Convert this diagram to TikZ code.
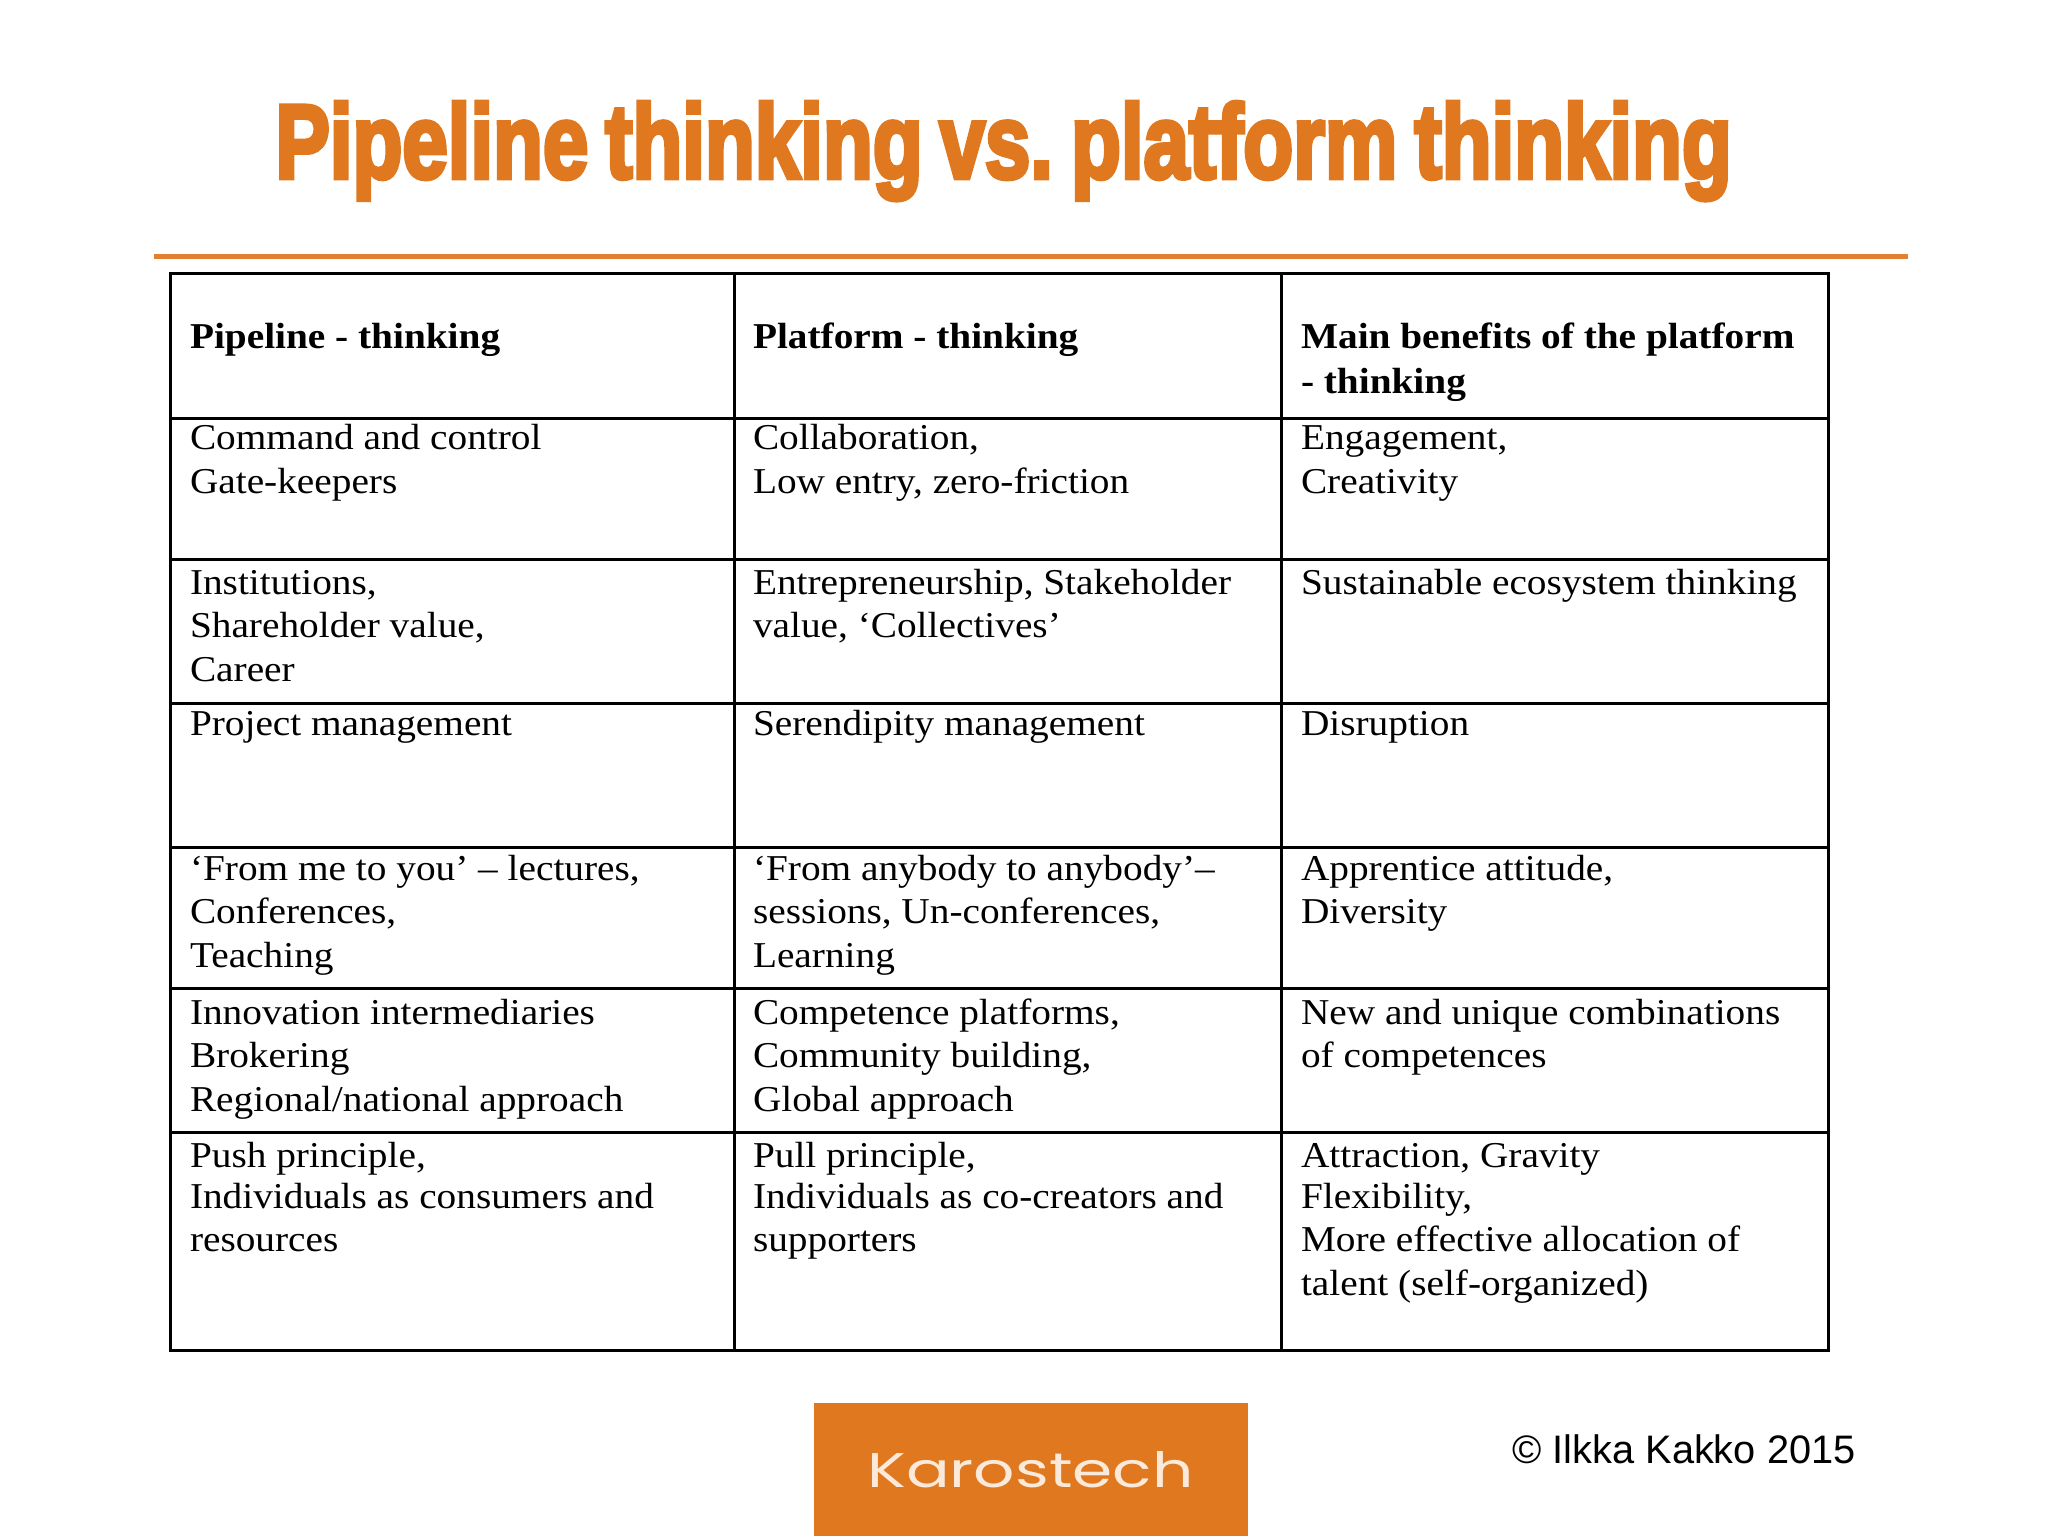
\documentclass[tikz,border=0pt]{standalone}
\usepackage{graphicx}
\usepackage{fontspec}
\setmainfont[FakeStretch=1.08]{Liberation Serif}
\newfontfamily\titlefont[FakeBold=4.5,WordSpace=0.75]{Liberation Sans Bold}
\newfontfamily\logofont{Poppins}
\newfontfamily\notefont{Liberation Sans}
\definecolor{brandorange}{HTML}{DF781E}
\definecolor{ruleorange}{HTML}{E08030}
\definecolor{logotext}{HTML}{FBE9DA}
\tikzset{
  cell/.style={anchor=north west,inner sep=0pt,outer sep=0pt,align=left,
    font=\fontsize{18.2}{21.75}\selectfont},
  grid/.style={line width=1.5pt,black},
}
\newcommand{\fl}{\rule{0pt}{14pt}}
\begin{document}
\begin{tikzpicture}[x=0.5pt,y=-0.5pt]
\useasboundingbox (0,0) rectangle (2048,1536);
\node[anchor=base west,inner sep=0pt,text=brandorange] (title) at (275,178)
  {\resizebox{728pt}{38pt}{\titlefont Pipeline thinking vs.\kern-0.08em{} platform thinking}};
\draw[ruleorange,line width=2.5pt] (154,256) -- (1908,256);
% table
\draw[grid] (170,273) rectangle (1828,1350);
\foreach \yy in {418,559,703,847,988,1132} \draw[grid] (170,\yy) -- (1828,\yy);
\foreach \xx in {734,1281} \draw[grid] (\xx,273) -- (\xx,1350);
% header
\node[cell] (h1) at (190,320) {\fl\textbf{Pipeline - thinking}};
\node[cell] (h2) at (753,320) {\fl\textbf{Platform - thinking}};
\node[cell] (h3) at (1301,320) {\fl\textbf{Main benefits of the platform}\\[0.8pt]\textbf{- thinking}};
% rows
\node[cell] (a1) at (190,421.5) {\fl Command and control\\Gate-keepers};
\node[cell] (b1) at (753,421.5) {\fl Collaboration,\\Low entry, zero-friction};
\node[cell] (c1) at (1301,421.5) {\fl Engagement,\\Creativity};
\node[cell] (a2) at (190,566) {\fl Institutions,\\Shareholder value,\\Career};
\node[cell] (b2) at (753,566) {\fl Entrepreneurship, Stakeholder\\value, ‘Collectives’};
\node[cell] (c2) at (1301,566) {\fl Sustainable ecosystem thinking};
\node[cell] (a3) at (190,707) {\fl Project management};
\node[cell] (b3) at (753,707) {\fl Serendipity management};
\node[cell] (c3) at (1301,707) {\fl Disruption};
\node[cell] (a4) at (190,852) {\fl ‘From me to you’ – lectures,\\Conferences,\\Teaching};
\node[cell] (b4) at (753,852) {\fl ‘From anybody to anybody’–\\sessions, Un-conferences,\\Learning};
\node[cell] (c4) at (1301,852) {\fl Apprentice attitude,\\Diversity};
\node[cell] (a5) at (190,996) {\fl Innovation intermediaries\\Brokering\\Regional/national approach};
\node[cell] (b5) at (753,996) {\fl Competence platforms,\\Community building,\\Global approach};
\node[cell] (c5) at (1301,996) {\fl New and unique combinations\\of competences};
\node[cell] (a6) at (190,1139.5) {\fl Push principle,\\[-1.5pt]Individuals as consumers and\\resources};
\node[cell] (b6) at (753,1139.5) {\fl Pull principle,\\[-1.5pt]Individuals as co-creators and\\supporters};
\node[cell] (c6) at (1301,1139.5) {\fl Attraction, Gravity\\[-1.5pt]Flexibility,\\More effective allocation of\\talent (self-organized)};
% logo
\node[fill=brandorange,minimum width=217pt,minimum height=66.5pt,inner sep=0pt,anchor=north west] (logo) at (814,1403) {};
\node[anchor=base west,inner sep=0pt,text=logotext] (logotxt) at (867,1487)
  {\resizebox{163pt}{18pt}{\logofont Karostech}};
\node[anchor=base west,inner sep=0pt] (copy) at (1512,1463)
  {\resizebox{171.5pt}{!}{\notefont © Ilkka Kakko 2015}};
\end{tikzpicture}
\end{document}
